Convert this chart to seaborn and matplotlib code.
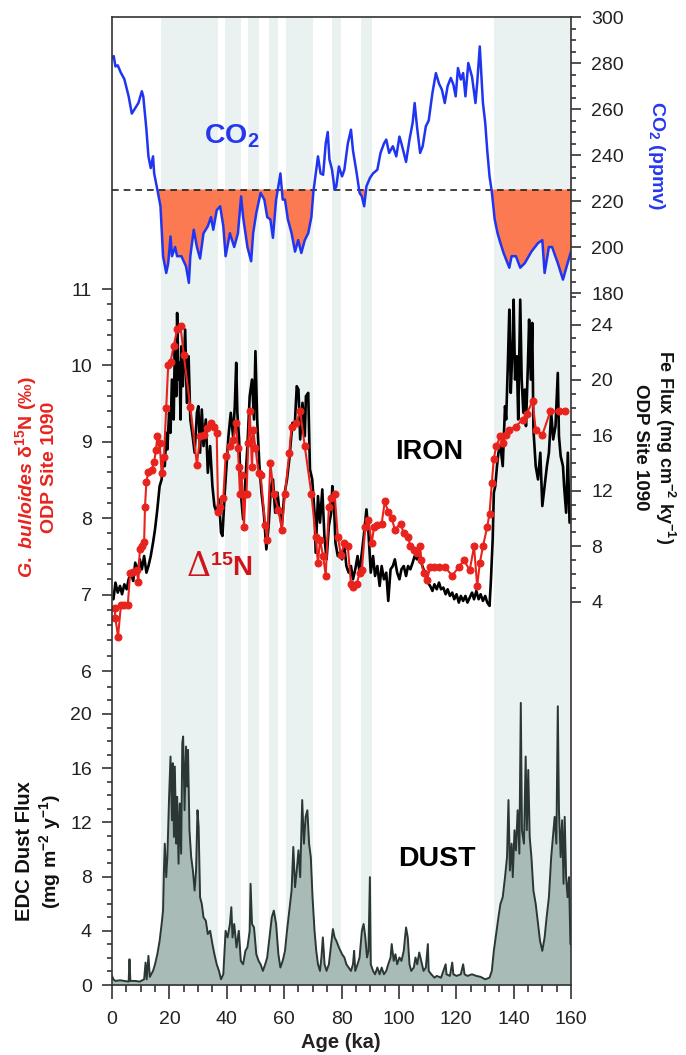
import numpy as np
import matplotlib
matplotlib.use("Agg")
import matplotlib.pyplot as plt
import seaborn as sns
from matplotlib.ticker import MultipleLocator, FixedLocator

# ---- data ----
# glacial stadial bands (ka)
band_start = [17.0, 39.3, 47.4, 54.6, 60.7, 76.7, 86.8, 133.1]
band_end = [37.0, 45.1, 51.4, 58.0, 70.2, 79.8, 90.6, 160.0]

# CO2 (ppmv)
co2_age = [0, 0.6, 1.2, 2, 3, 4.3, 5.8, 6.9, 8.1, 9.2, 10.4, 10.9, 12, 12.7, 13.5, 14.3, 14.7, 15.8,
           16.9, 17.8, 18.9, 19.6, 20.4, 20.9, 22, 22.7, 24.2, 25.8, 26.8, 27.3, 28.5, 29.6, 30.7,
           31.9, 33.4, 34.5, 35.3, 36.5, 37.7, 38.8, 39.6, 41.1, 42.6, 43.9, 45, 45.7, 47.2, 48.5,
           49.2, 50.3, 51.8, 53.1, 54.1, 55.2, 56.1, 57.2, 58, 58.7, 59.5, 60.3, 61.3, 62.6, 63.8,
           64.9, 66, 67.2, 68.4, 69.5, 70.2, 71.2, 71.8, 72.7, 73.6, 74.5, 75.2, 75.8, 76.7, 77.6,
           78.2, 79.1, 80.2, 81, 82.2, 83.3, 84, 85.3, 86.3, 87.1, 87.9, 88.7, 89.9, 91, 92.5, 93.6,
           94.8, 95.6, 96.6, 97.9, 99.1, 100.2, 100.9, 102.5, 103.7, 104.8, 105.5, 106.3, 107.4,
           108.3, 109.4, 110.4, 111.7, 112.9, 114, 115, 116, 117, 118.1, 119, 119.8, 120.6, 121.6,
           122.4, 123.2, 124.2, 125.5, 126.7, 127.3, 128.2, 128.8, 129.3, 130.1, 130.8, 131.6,
           132.4, 133.4, 134.4, 135.4, 136.5, 137.4, 138.5, 139.3, 140.8, 142.3, 143.9, 146.2,
           148.5, 150, 150.8, 152.3, 153.4, 155.4, 157.2, 158.5, 160]
co2_ppm = [282, 283, 278.5, 279, 276, 273, 265.5, 258, 260.4, 262.6, 267.7, 265.5, 251, 239.4, 234.3,
           239.4, 232, 225, 217.7, 196, 188.7, 193, 204.6, 196, 200, 196, 196, 191.6, 184.4, 196,
           207.5, 200, 195, 206, 209, 213, 207.5, 216, 217.7, 209, 196, 206, 200, 206, 222, 213, 200,
           193.8, 206, 214.8, 223.5, 220.6, 213, 212, 204, 220.6, 226.4, 232, 220.6, 220.6, 212, 206,
           198, 203, 197.4, 203, 206, 213, 224, 233.6, 239.4, 232, 231.4, 245, 250, 238, 233.6, 225,
           226.4, 235, 230.7, 233.6, 245, 251, 242, 232, 223.5, 222, 217.7, 226.4, 230, 232, 233.6,
           240.9, 245, 246.7, 240.9, 243.8, 239.4, 248, 245, 237, 246.7, 254, 262.6, 252.5, 240.9,
           243.8, 252.5, 255, 267, 275.6, 271, 268.4, 262.6, 270, 273.5, 270.6, 265.5, 277.8, 272.8,
           275.6, 265.5, 280, 274, 262.6, 271.3, 287.2, 274, 262.6, 254, 242, 230.7, 224, 212, 206,
           201.7, 197.4, 194.5, 191, 196, 196, 191, 193, 198, 201.7, 203, 188.7, 200, 200, 193,
           185.8, 191.6, 198]
co2_threshold = 225

# G. bulloides d15N (permil), ODP 1090
d15n_age = [0.9, 1.2, 2.1, 3.1, 4.3, 5.5, 6.3, 7.4, 8.6, 9.2, 9.7, 10.4, 11.2, 11.5, 12, 12.7, 13.8,
            14.7, 15.3, 15.8, 16.6, 17.3, 18.1, 18.9, 19.6, 20.4, 21.5, 22.7, 23.9, 25, 27.3, 29.6,
            30.7, 31.9, 33.1, 34.5, 35.4, 36.5, 37, 37.7, 38.8, 39.6, 41.1, 42.3, 43.1, 43.9, 44.2,
            44.6, 45.2, 46, 46.5, 46.9, 47.5, 48, 48.8, 49.2, 50, 51.1, 51.8, 53.4, 54.1, 55.2, 56.4,
            58, 59.2, 60.3, 61.8, 62.6, 64.1, 65.6, 67.2, 69.5, 71, 71.8, 72.5, 73.6, 74.5, 75.6,
            76.4, 77.6, 78.7, 79.8, 81, 82.2, 83.3, 84, 85.3, 86.3, 87.1, 88.3, 89.4, 90.5, 91.4,
            92.5, 94, 95.1, 96.3, 97.5, 98.6, 100.6, 101.7, 103.2, 104, 105.2, 106.3, 107.4, 107.8,
            108.6, 109.8, 110.9, 112.4, 114, 116, 118.6, 120.9, 122.7, 124.7, 126.2, 127.3, 128.2,
            129.3, 130.8, 131.6, 132.4, 133.1, 133.9, 135.4, 136.2, 137.4, 138.5, 140.8, 143.1,
            144.6, 146.6, 147.7, 150, 152.8, 155.8, 158]
d15n_val = [6.82, 6.69, 6.45, 6.86, 6.86, 6.86, 7.28, 7.3, 7.32, 7.17, 7.6, 7.63, 7.69, 8.15, 8.48,
            8.61, 8.63, 8.74, 8.89, 9.07, 8.98, 8.59, 8.8, 9.44, 10.01, 10.05, 10.25, 10.47, 10.51,
            10.14, 9.46, 8.7, 9.07, 9.09, 9.18, 9.24, 9.2, 9.11, 8.08, 8.15, 8.26, 8.81, 8.94, 9.02,
            9.24, 8.92, 8.67, 8.32, 8.57, 7.89, 8.32, 8.32, 8.98, 9.4, 8.67, 9.16, 8.92, 8.59, 8.57,
            7.91, 7.71, 8.72, 8.32, 8.11, 7.85, 8.32, 8.85, 9.2, 9.24, 9.4, 8.94, 8.32, 7.76, 7.41,
            7.72, 7.5, 7.25, 8.15, 8.26, 8.32, 7.76, 7.52, 7.67, 7.63, 7.14, 7.1, 7.14, 7.28, 7.32,
            7.89, 7.98, 7.67, 7.89, 7.91, 7.93, 8.22, 8.08, 8.0, 7.85, 7.93, 7.8, 7.76, 7.63, 7.58,
            7.54, 7.63, 7.45, 7.28, 7.19, 7.36, 7.36, 7.36, 7.36, 7.25, 7.36, 7.45, 7.32, 7.63, 7.11,
            7.41, 7.63, 7.89, 8.06, 8.46, 8.78, 8.94, 9.07, 8.98, 9.09, 9.16, 9.2, 9.29, 9.37, 9.53,
            9.16, 9.09, 9.4, 9.4, 9.4]

# Fe flux (mg cm-2 ky-1), ODP 1090
fe_age = [0.5, 1.2, 2, 2.8, 3.5, 4.3, 5.1, 5.8, 6.6, 7.4, 8.1, 8.9, 9.7, 10.4, 11.2, 12, 12.7, 13.5,
          14.3, 15, 15.8, 16.6, 17.3, 17.8, 18.4, 18.9, 19.3, 19.9, 20.4, 20.9, 21.5, 21.9, 22.4,
          22.7, 23.2, 23.5, 23.9, 24.2, 24.7, 25.5, 26.1, 26.7, 27.3, 28.1, 28.8, 29.6, 30.1, 30.7,
          31.3, 31.9, 32.7, 33.4, 34.2, 35, 35.7, 36.5, 37.3, 38, 38.5, 39.3, 39.9, 40.6, 41.4,
          42.2, 42.8, 43.3, 43.7, 44.3, 44.9, 45.7, 46.5, 47.2, 48, 48.8, 49.5, 50, 50.6, 51.4,
          52.1, 52.9, 53.8, 54.6, 55.4, 56.1, 56.9, 57.7, 58.4, 59.2, 60, 61, 61.8, 62.9, 63.7,
          64.4, 65, 65.6, 66.4, 67.2, 67.6, 68.4, 69, 69.8, 70.6, 71, 71.8, 72.5, 73.3, 74.1, 74.8,
          75.6, 76.4, 76.8, 77.3, 77.9, 78.7, 79.4, 80.2, 81, 81.7, 82.5, 83.3, 84, 84.8, 85.6,
          86.3, 87.1, 87.9, 88.7, 89.4, 90.2, 91, 91.7, 92.5, 93.3, 94, 94.8, 95.6, 96.3, 97.1,
          97.9, 98.6, 99.4, 100.2, 100.9, 101.7, 102.5, 103.2, 104, 104.8, 105.5, 106.3, 107.1,
          107.8, 108.6, 109.4, 110.1, 110.9, 111.7, 112.4, 113.2, 114, 114.7, 115.5, 116.3, 117,
          117.8, 118.6, 119.3, 120.1, 120.9, 121.6, 122.4, 123.2, 123.9, 124.7, 125.5, 126.2, 127,
          127.8, 128.5, 129.3, 130.1, 130.8, 131.6, 132.1, 132.7, 133.1, 133.6, 134.2, 134.7,
          135.4, 136.2, 137, 137.4, 138, 138.5, 139, 139.6, 140, 140.5, 141.1, 141.6, 142.3, 142.8,
          143.4, 143.9, 144.3, 145, 145.4, 146, 146.5, 146.9, 147.7, 148.5, 149.3, 150, 150.8,
          151.6, 152.3, 153.1, 153.8, 154.6, 155.4, 155.8, 156.4, 157.2, 157.6, 158.3, 158.9, 159.5]
fe_flux = [4.17, 5.37, 4.65, 5.13, 4.53, 5.25, 4.89, 5.61, 6.09, 5.49, 6.81, 6.09, 7.05, 6.33, 7.29,
           6.09, 6.57, 7.29, 8.25, 9.22, 10.66, 12.34, 12.82, 14.5, 13.78, 16.19, 14.99, 17.63,
           16.19, 20.03, 17.15, 22.44, 18.83, 24.84, 20.03, 21.24, 17.15, 22.44, 19.55, 23.64,
           18.35, 21.72, 17.15, 15.95, 14.75, 17.63, 18.11, 14.75, 17.87, 15.23, 17.15, 13.3, 15.23,
           12.34, 10.9, 10.42, 11.38, 8.98, 8.74, 11.86, 13.78, 15.95, 17.63, 15.95, 18.11, 21.24,
           17.63, 15.71, 11.86, 9.94, 12.82, 15.23, 18.83, 20.03, 17.15, 22.08, 17.15, 13.78, 11.86,
           10.42, 7.77, 9.46, 12.34, 12.82, 10.42, 11.86, 10.42, 9.46, 11.62, 12.82, 14.26, 16.91,
           16.67, 19.55, 19.31, 15.71, 18.35, 15.95, 18.83, 19.07, 13.54, 12.82, 10.42, 7.53, 11.62,
           9.7, 12.1, 8.5, 7.05, 9.46, 10.42, 12.34, 11.38, 8.25, 7.29, 7.53, 7.05, 8.01, 6.57, 6.09,
           6.57, 5.61, 6.33, 7.29, 6.09, 7.53, 8.98, 10.66, 8.98, 6.09, 7.29, 5.85, 6.57, 5.13, 6.57,
           5.61, 6.09, 4.05, 6.33, 6.57, 7.05, 6.09, 5.61, 6.33, 6.57, 5.85, 6.57, 6.33, 6.81, 7.29,
           7.05, 7.53, 6.81, 6.33, 5.85, 5.37, 5.13, 4.77, 5.25, 4.89, 5.37, 4.89, 5.01, 4.53, 4.89,
           4.41, 4.65, 4.17, 4.53, 3.93, 4.41, 4.05, 4.41, 3.93, 4.29, 4.65, 4.17, 4.77, 4.17, 4.53,
           4.05, 4.41, 3.93, 3.69, 5.61, 8.5, 11.86, 12.34, 13.78, 14.75, 15.23, 13.78, 18.11, 17.15,
           21.24, 25.08, 19.07, 22.44, 25.8, 20.03, 21.72, 17.15, 25.8, 20.03, 17.63, 19.31, 16.67,
           21.24, 24.36, 20.03, 24.12, 16.43, 13.78, 12.82, 14.75, 10.9, 12.34, 13.78, 14.75, 17.63,
           15.71, 16.67, 20.51, 15.95, 14.5, 13.78, 12.34, 10.42, 14.75, 9.7]

# EDC dust flux (mg m-2 y-1)
dust_age = [0, 0.5, 1.2, 2.8, 4.3, 5.8, 6.1, 6.4, 8.1, 9.7, 11.2, 11.7, 12.1, 12.7, 13.2, 14.3, 15,
            15.8, 16.6, 17.3, 17.8, 18.1, 18.4, 18.9, 19.3, 19.9, 20.4, 20.9, 21.2, 21.6, 21.9,
            22.4, 22.7, 23.2, 23.6, 24.1, 24.5, 24.8, 25.3, 25.8, 26.2, 26.5, 27, 27.6, 28.2, 28.8,
            29.3, 29.8, 30.2, 30.7, 31.3, 31.9, 32.7, 33.4, 34.2, 35, 35.7, 36.5, 37.3, 38, 38.8,
            39.6, 40.3, 41.1, 41.6, 42, 42.6, 43.4, 44.2, 44.9, 45.7, 46.5, 47.2, 48, 48.3, 48.8,
            49.5, 50.3, 51.1, 51.8, 52.6, 53.4, 54.1, 54.9, 55.7, 56.4, 57.2, 58, 58.7, 59.5, 60.3,
            61, 61.8, 62.6, 63.2, 63.8, 64.4, 65, 65.6, 66.3, 66.9, 67.5, 68.1, 68.7, 69.3, 69.9,
            70.6, 71.2, 71.8, 72.5, 73, 73.5, 74.1, 74.8, 75.6, 76.4, 77, 77.6, 78.2, 79.1, 80.2,
            81, 81.7, 82.5, 83.3, 84, 84.4, 84.8, 85.6, 86.3, 87.1, 87.7, 88.3, 88.9, 89.4, 89.9,
            90.2, 91, 91.7, 92.5, 93.3, 94, 94.8, 95.6, 96.3, 97.1, 97.5, 98.2, 98.8, 99.4, 100.2,
            100.9, 101.7, 102.5, 103.1, 103.7, 104.3, 105.2, 105.8, 106.4, 107.1, 107.8, 108.6,
            109.4, 110.1, 110.4, 111.3, 112.4, 113.2, 114.7, 116.3, 116.6, 117.8, 118.6, 119,
            120.1, 121.6, 122.4, 122.9, 123.9, 125.5, 127, 128.5, 130.1, 131.6, 132.4, 133.1,
            133.9, 134.7, 135.4, 136.2, 137, 137.7, 138.2, 138.7, 139.3, 139.7, 140.3, 140.8,
            141.4, 142, 142.5, 142.9, 143.6, 144.2, 144.6, 145.1, 145.6, 146.2, 146.9, 147.7,
            148.5, 149.2, 150, 150.8, 151.5, 152.3, 153.1, 153.7, 154.3, 154.9, 155.4, 155.8,
            156.4, 156.9, 157.4, 157.8, 158.3, 158.8, 159.3, 159.8]
dust_flux = [0.67, 0.42, 0.3, 0.35, 0.3, 0.25, 1.9, 0.3, 0.3, 0.25, 0.42, 1.66, 0.42, 2.15, 0.6,
             1.04, 1.53, 2.27, 3.26, 4.5, 5.49, 8.45, 10.43, 7.96, 9.44, 13.89, 16.86, 12.16,
             16.37, 10.93, 16.12, 10.43, 13.89, 8.95, 13.4, 9.69, 17.85, 18.34, 12.9, 17.6, 14.64,
             17.35, 11.42, 9.44, 8.45, 6.97, 8.45, 12.9, 11.67, 6.48, 5.98, 4.99, 4.75, 3.76, 4.0,
             3.02, 2.27, 1.53, 1.04, 0.42, 0.79, 4.0, 3.51, 4.5, 5.74, 3.51, 4.5, 2.77, 4.0, 1.78,
             1.53, 2.52, 2.77, 4.0, 7.47, 4.5, 4.25, 2.27, 1.78, 1.53, 1.04, 1.53, 2.03, 3.51, 4.99,
             5.49, 4.5, 2.27, 1.29, 1.78, 2.52, 4.0, 5.49, 6.97, 10.19, 7.22, 8.45, 9.94, 7.96,
             13.65, 10.43, 12.41, 12.9, 10.43, 9.44, 6.48, 4.0, 2.52, 1.53, 1.04, 2.03, 3.51, 1.53,
             1.04, 1.53, 3.02, 4.13, 3.51, 3.26, 2.77, 2.27, 2.03, 1.53, 1.29, 1.04, 1.53, 2.52,
             1.04, 1.53, 2.03, 4.0, 4.5, 3.51, 2.03, 2.52, 7.96, 1.53, 1.04, 0.79, 1.29, 0.79, 1.29,
             0.79, 1.04, 1.53, 2.03, 3.02, 1.78, 2.27, 1.53, 2.03, 1.78, 2.52, 4.25, 3.51, 1.53,
             1.04, 1.29, 2.03, 1.53, 2.4, 1.78, 1.04, 1.29, 3.02, 1.04, 0.79, 0.54, 0.67, 0.54,
             1.53, 0.79, 0.67, 1.66, 0.79, 0.67, 0.79, 1.53, 0.79, 0.67, 0.79, 0.67, 0.6, 0.42,
             0.54, 1.04, 2.52, 3.76, 4.99, 5.98, 6.48, 7.96, 9.44, 13.65, 8.45, 10.43, 7.96, 11.42,
             9.94, 12.9, 9.69, 20.82, 11.42, 10.43, 16.86, 11.42, 15.87, 10.93, 9.44, 6.97, 5.98,
             4.5, 3.26, 2.52, 3.51, 4.99, 6.48, 9.44, 10.93, 12.41, 10.43, 20.57, 12.9, 9.44, 12.16,
             7.47, 12.41, 7.96, 6.48, 7.96, 3.02]

# ---- style ----
sns.set_style("ticks")
plt.rcParams["font.family"] = ["Liberation Sans", "DejaVu Sans"]
plt.rcParams["mathtext.fontset"] = "custom"
plt.rcParams["mathtext.rm"] = "Liberation Sans:bold"
plt.rcParams["mathtext.it"] = "Liberation Sans:italic:bold"
plt.rcParams["mathtext.bf"] = "Liberation Sans:bold"

W_PX, H_PX = 686, 1055
X0, X1 = 112, 571          # plot box left / right (px)
fig = plt.figure(figsize=(W_PX / 100, H_PX / 100), dpi=100)


def box(top_px, bottom_px):
    return [X0 / W_PX, 1 - bottom_px / H_PX, (X1 - X0) / W_PX, (bottom_px - top_px) / H_PX]


def overlay(top_px, bottom_px, ylim, side):
    a = fig.add_axes(box(top_px, bottom_px))
    a.patch.set_alpha(0)
    for s in a.spines.values():
        s.set_visible(False)
    a.set_xlim(0, 160)
    a.set_ylim(*ylim)
    a.tick_params(axis="x", which="both", bottom=False, labelbottom=False)
    if side == "right":
        a.yaxis.tick_right()
    a.tick_params(axis="y", which="both", direction="out", width=1.2, color="#333333",
                  left=(side == "left"), right=(side == "right"),
                  labelleft=(side == "left"), labelright=(side == "right"))
    a.tick_params(axis="y", which="major", length=7.5, pad=7, labelsize=14, labelcolor="#222222")
    a.tick_params(axis="y", which="minor", length=3.8)
    return a


TEXT_BLUE = "#2638ee"
RED = "#e8231d"

# background bands
ax_bg = fig.add_axes(box(17, 985))
ax_bg.set_xlim(0, 160)
ax_bg.set_ylim(0, 1)
ax_bg.axis("off")
for s, e in zip(band_start, band_end):
    ax_bg.axvspan(s, e, color="#e9f1f1", lw=0)

# CO2 panel
ax_co2 = overlay(17, 293, (180, 300), "right")
ax_co2.fill_between(co2_age, co2_ppm, co2_threshold,
                    where=np.array(co2_ppm) < co2_threshold, interpolate=True,
                    color="#fb7a52", lw=0)
ax_co2.axhline(co2_threshold, color="#222222", lw=1.2, ls=(0, (4, 3)))
sns.lineplot(x=co2_age, y=co2_ppm, ax=ax_co2, color="#1f35f2", lw=1.8,
             estimator=None, errorbar=None, sort=False)
ax_co2.yaxis.set_major_locator(FixedLocator(np.arange(180, 301, 20)))
ax_co2.yaxis.set_minor_locator(FixedLocator(np.arange(180, 301, 5)))
ax_co2.text(32, 245, "CO$_2$", color=TEXT_BLUE, fontsize=20.5, fontweight="bold",
            ha="left", va="baseline")

# Fe flux panel
ax_fe = overlay(293, 657, (0, 364 / 13.85), "right")
sns.lineplot(x=fe_age, y=fe_flux, ax=ax_fe, color="black", lw=1.9,
             estimator=None, errorbar=None, sort=False)
ax_fe.yaxis.set_major_locator(FixedLocator(np.arange(4, 25, 4)))
ax_fe.yaxis.set_minor_locator(FixedLocator(np.arange(4, 27, 1)))

# d15N panel
ax_n = overlay(289, 671, (6, 11), "left")
sns.lineplot(x=d15n_age, y=d15n_val, ax=ax_n, color=RED, lw=1.5, marker="o",
             markersize=5, markeredgecolor=RED, estimator=None, errorbar=None, sort=False)
ax_n.yaxis.set_major_locator(FixedLocator(np.arange(6, 12, 1)))
ax_n.yaxis.set_minor_locator(FixedLocator(np.arange(6, 11.01, 0.2)))
ax_n.text(98.6, 8.775, "IRON", color="black", fontsize=19.5, fontweight="bold",
          ha="left", va="baseline")
ax_n.text(26, 7.24, "\u0394", color="#d0141a", fontsize=24, family="DejaVu Serif",
          fontweight="light", ha="left", va="baseline")
ax_n.text(34, 7.24, "$^{15}$N", color="#d0141a", fontsize=20, fontweight="bold",
          ha="left", va="baseline")

# dust panel
ax_dust = overlay(671, 985, (0, 314 / 13.55), "left")
ax_dust.fill_between(dust_age, dust_flux, 0, color="#a9bbb7", lw=0)
sns.lineplot(x=dust_age, y=dust_flux, ax=ax_dust, color="#2b3735", lw=1.4,
             estimator=None, errorbar=None, sort=False)
ax_dust.yaxis.set_major_locator(FixedLocator(np.arange(0, 21, 4)))
ax_dust.yaxis.set_minor_locator(FixedLocator(np.arange(0, 23, 1)))
ax_dust.text(99.7, 8.75, "DUST", color="black", fontsize=20.5, fontweight="bold",
             ha="left", va="baseline")

for a in (ax_co2, ax_fe, ax_n, ax_dust):
    a.set_xlabel("")
    a.set_ylabel("")

# frame with the age axis, drawn last
ax_fr = fig.add_axes(box(17, 985))
ax_fr.patch.set_alpha(0)
ax_fr.set_xlim(0, 160)
ax_fr.set_yticks([])
for s in ax_fr.spines.values():
    s.set_visible(True)
    s.set_linewidth(1.2)
    s.set_color("#333333")
ax_fr.xaxis.set_major_locator(MultipleLocator(20))
ax_fr.xaxis.set_minor_locator(MultipleLocator(5))
ax_fr.tick_params(axis="x", which="both", direction="out", width=1.2, color="#333333")
ax_fr.tick_params(axis="x", which="major", length=10, pad=9, labelsize=14, labelcolor="#222222")
ax_fr.tick_params(axis="x", which="minor", length=5)


def ftext(x, y, s, **kw):
    fig.text(x / W_PX, 1 - y / H_PX, s, ha="center", va="center", **kw)


ftext(341, 1043, "Age (ka)", fontsize=14.5, fontweight="bold", color="#222222")
ftext(26, 477, r"$\mathit{G.\ bulloides}$ " + "\u03b4$^{15}$N (\u2030)",
      rotation=90, fontsize=14, fontweight="bold", color=RED)
ftext(49, 467, "ODP Site 1090", rotation=90, fontsize=14, fontweight="bold", color=RED)
ftext(25, 851, "EDC Dust Flux", rotation=90, fontsize=14.5, fontweight="bold", color="#111111")
ftext(50, 852, "(mg m$^{-2}$ y$^{-1}$)", rotation=90, fontsize=14, fontweight="bold", color="#111111")
ftext(656, 155, "CO$_2$ (ppmv)", rotation=270, fontsize=14, fontweight="bold", color=TEXT_BLUE)
ftext(665, 447, "Fe Flux (mg cm$^{-2}$ ky$^{-1}$)", rotation=270, fontsize=13, fontweight="bold",
      color="#111111")
ftext(641, 447, "ODP Site 1090", rotation=270, fontsize=13.5, fontweight="bold", color="#111111")

fig.savefig("out.png", dpi=100)
